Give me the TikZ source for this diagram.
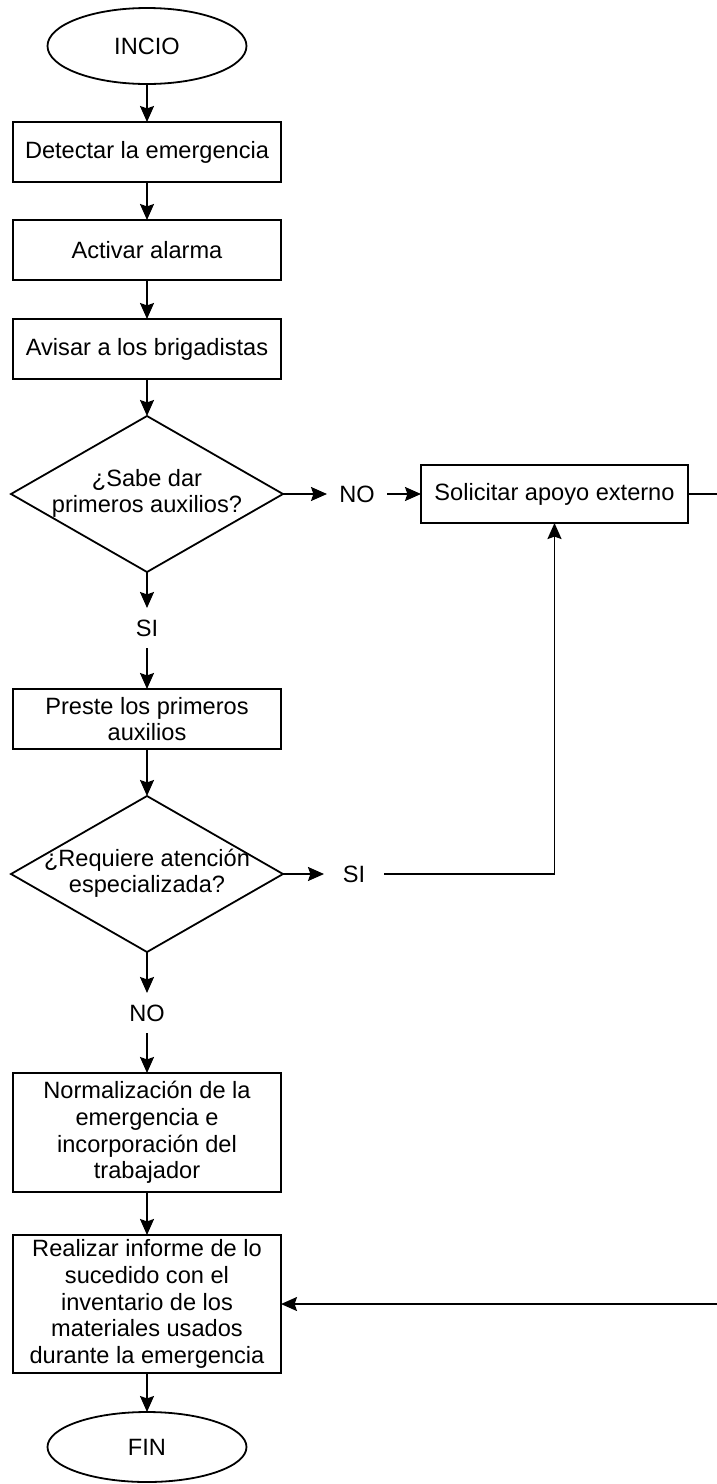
\documentclass[tikz,border=0pt]{standalone}
\usepackage{fontspec}
\setmainfont{Liberation Sans}
\usetikzlibrary{positioning, arrows.meta, shapes.geometric}

\begin{document}
\begin{tikzpicture}[x=0.5pt, y=-0.5pt, font=\fontsize{11.8}{13.3}\selectfont,
  >={Stealth[length=8pt, width=7pt, inset=1.2pt]}, line width=0.9pt,
  term/.style={draw, ellipse, minimum width=99.5pt, minimum height=38pt, inner sep=1pt, outer sep=0pt},
  proc/.style={draw, align=center, minimum width=134pt, minimum height=30pt, inner sep=1.5pt, outer sep=0pt},
  dec/.style={draw, diamond, minimum width=136pt, minimum height=78pt, inner sep=0pt, outer sep=0pt},
  lbl/.style={minimum width=30pt, minimum height=20pt, inner sep=2pt, outer sep=0pt}]
  \useasboundingbox (0,0) rectangle (717,1484);
  \node[term] (inicio) at (147,46) {INCIO};
  \node[proc, below=19pt of inicio] (detectar) {Detectar la emergencia};
  \node[proc, below=19pt of detectar] (activar) {Activar alarma};
  \node[proc, below=19.5pt of activar] (avisar) {Avisar a los brigadistas};
  \node[dec, below=18.5pt of avisar] (sabe) {\makebox[0pt]{\begin{tabular}{@{}c@{}}¿Sabe dar\\ primeros auxilios?\end{tabular}}};
  \node[lbl, right=22pt of sabe] (no1) {NO};
  \node[proc, right=17pt of no1, minimum width=133.5pt, minimum height=29pt] (solicitar) {Solicitar apoyo externo};
  \coordinate[right=16.5pt of solicitar] (borde);
  \node[lbl, below=18pt of sabe] (si1) {SI};
  \node[proc, below=20.5pt of si1] (preste) {Preste los primeros\\ auxilios};
  \node[dec, below=23.5pt of preste] (requiere) {\makebox[0pt]{\begin{tabular}{@{}c@{}}¿Requiere atención\\ especializada?\end{tabular}}};
  \node[lbl, right=20.5pt of requiere] (si2) {SI};
  \node[lbl, below=20.5pt of requiere] (no2) {NO};
  \node[proc, below=20pt of no2, minimum height=59.5pt] (normal) {Normalización de la\\ emergencia e\\ incorporación del\\ trabajador};
  \node[proc, below=21.5pt of normal, minimum height=69pt] (informe) {Realizar informe de lo\\ sucedido con el\\ inventario de los\\ materiales usados\\ durante la emergencia};
  \node[term, below=19.5pt of informe, minimum height=35pt] (fin) {FIN};
  \draw[->] (inicio) -- (detectar);
  \draw[->] (detectar) -- (activar);
  \draw[->] (activar) -- (avisar);
  \draw[->] (avisar) -- (sabe);
  \draw[->] (sabe) -- (no1);
  \draw[->] (no1) -- (solicitar);
  \draw[->] (sabe) -- (si1);
  \draw[->] (si1) -- (preste);
  \draw[->] (preste) -- (requiere);
  \draw[->] (requiere) -- (si2);
  \draw[->] (si2) -| (solicitar);
  \draw[->] (requiere) -- (no2);
  \draw[->] (no2) -- (normal);
  \draw[->] (normal) -- (informe);
  \draw[->] (informe) -- (fin);
  \draw[->] (solicitar) -- (borde) |- (informe);
\end{tikzpicture}
\end{document}
